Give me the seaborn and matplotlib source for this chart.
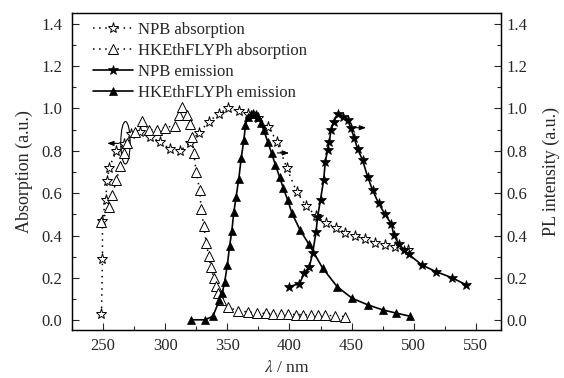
import matplotlib
matplotlib.use("Agg")
import matplotlib.pyplot as plt
import seaborn as sns
from matplotlib.patches import Ellipse
from matplotlib.ticker import MultipleLocator, FormatStrFormatter

# data
npb_abs_x = [248.7, 249.5, 249.5, 252, 253.5, 254.8, 260.7, 267, 272.8, 279.5, 288, 295.5,
             303.6, 311.6, 319.6, 327, 335, 343, 350.7, 359, 366.5, 375, 383, 390, 398,
             405.8, 413.4, 421.4, 429.4, 437.5, 445, 453, 461, 469, 477, 485, 495.8]
npb_abs_y = [0.03, 0.29, 0.47, 0.57, 0.66, 0.72, 0.80, 0.83, 0.88, 0.887, 0.866, 0.843,
             0.81, 0.80, 0.835, 0.885, 0.936, 0.976, 1.0, 0.99, 0.976, 0.955, 0.913, 0.843, 0.717,
             0.607, 0.54, 0.493, 0.458, 0.438, 0.414, 0.399, 0.383, 0.367, 0.356, 0.345, 0.333]

hk_abs_x = [248.7, 254.8, 257.5, 260.7, 264, 267, 269.6, 275.5, 281.6, 287, 293, 299.6,
            307.6, 311, 313.8, 317.8, 319.6, 321.8, 323, 325, 327.7, 329, 331, 333, 335,
            337, 339, 340.5, 342.4, 345, 350.4, 358.4, 366.5, 373.7, 381, 387, 393, 399,
            405, 411, 417, 423, 429, 437, 445]
hk_abs_y = [0.466, 0.534, 0.59, 0.662, 0.73, 0.788, 0.835, 0.89, 0.94, 0.90, 0.898, 0.91,
            0.918, 0.968, 1.005, 0.968, 0.926, 0.866, 0.788, 0.70, 0.615, 0.524, 0.446, 0.367, 0.305,
            0.25, 0.20, 0.163, 0.129, 0.097, 0.063, 0.046, 0.04, 0.035, 0.033, 0.032, 0.03, 0.03,
            0.028, 0.027, 0.026, 0.025, 0.024, 0.022, 0.018]

npb_em_x = [400, 408, 412, 416, 418.7, 421.4, 422.7, 425, 427.5, 428.9, 430.7, 432, 433.5,
            435.5, 438.8, 442.8, 446.8, 449.5, 452.2, 454.8, 458.8, 462.9, 466.9, 471.7,
            477, 482, 484, 488, 492, 496, 506.5, 518, 530.6, 542.3]
npb_em_y = [0.16, 0.173, 0.223, 0.254, 0.317, 0.419, 0.49, 0.57, 0.662, 0.749, 0.804, 0.843, 0.898,
            0.937, 0.976, 0.96, 0.945, 0.906, 0.859, 0.81, 0.757, 0.678, 0.615, 0.553,
            0.50, 0.455, 0.403, 0.36, 0.333, 0.312, 0.262, 0.23, 0.202, 0.168]

hk_em_x = [321, 332, 338.4, 343.7, 345.9, 347.8, 350, 351.8, 353.6, 355.2, 357.1, 359.2,
           361.2, 363.3, 364.6, 366.5, 369.2, 371, 373, 375, 377.2, 379.3, 382.5, 385.7,
           388.7, 392, 395.1, 398.6, 402, 408.5, 415.5, 426.7, 438.3, 450.3, 462.9, 475,
           485.7, 497]
hk_em_y = [0.003, 0.003, 0.02, 0.097, 0.13, 0.18, 0.26, 0.35, 0.42, 0.51, 0.584, 0.667,
           0.767, 0.85, 0.92, 0.96, 0.976, 0.98, 0.975, 0.96, 0.93, 0.898, 0.843, 0.788,
           0.733, 0.678, 0.623, 0.568, 0.506, 0.427, 0.361, 0.247, 0.16, 0.105, 0.074, 0.05,
           0.035, 0.02]

sns.set_style("ticks")
plt.rcParams["font.family"] = ["Liberation Serif", "DejaVu Serif"]
plt.rcParams["mathtext.fontset"] = "stix"
plt.rcParams["font.size"] = 11

fig = plt.figure(figsize=(5.64, 3.78), dpi=100)
ax = fig.add_axes([0.1277, 0.127, 0.760, 0.8386])

dotted = (0, (1, 3))
common = dict(ax=ax, color="k", sort=False, estimator=None, markeredgecolor="k")

sns.lineplot(x=npb_abs_x, y=npb_abs_y, marker="*", markersize=8, markerfacecolor="white",
             markeredgewidth=0.7, linestyle=dotted, linewidth=1.1,
             label="NPB absorption", **common)
sns.lineplot(x=hk_abs_x, y=hk_abs_y, marker="^", markersize=6.5, markerfacecolor="white",
             markeredgewidth=0.7, linestyle=dotted, linewidth=1.1,
             label="HKEthFLYPh absorption", **common)
sns.lineplot(x=npb_em_x, y=npb_em_y, marker="*", markersize=7.5, markerfacecolor="k",
             markeredgewidth=0.5, linewidth=1.2, label="NPB emission", **common)
sns.lineplot(x=hk_em_x, y=hk_em_y, marker="^", markersize=6, markerfacecolor="k",
             markeredgewidth=0.5, linewidth=1.2, label="HKEthFLYPh emission", **common)

# ellipse and arrows that tell which axis a curve belongs to
ax.add_patch(Ellipse((268, 0.838), 7.5, 0.2, fill=False, edgecolor="k", linewidth=0.8))
arrow = dict(arrowstyle="-|>,head_length=0.35,head_width=0.13", color="k", lw=0.8)
ax.annotate("", xy=(251, 0.835), xytext=(265, 0.835), arrowprops=arrow)
ax.annotate("", xy=(402, 0.79), xytext=(388, 0.79), arrowprops=arrow)
ax.annotate("", xy=(464, 0.909), xytext=(449, 0.909), arrowprops=arrow)

ax.set_xlim(225, 570)
ax.set_ylim(-0.045, 1.45)
ax.xaxis.set_major_locator(MultipleLocator(50))
ax.xaxis.set_minor_locator(MultipleLocator(25))
ax.yaxis.set_major_locator(MultipleLocator(0.2))
ax.yaxis.set_minor_locator(MultipleLocator(0.1))
ax.yaxis.set_major_formatter(FormatStrFormatter("%.1f"))
ax.tick_params(which="both", direction="in", top=False, right=False, labelsize=12)
ax.tick_params(which="major", length=5, width=0.8)
ax.tick_params(axis="y", which="major", pad=7)
ax.tick_params(axis="x", which="major", pad=6)
ax.tick_params(which="minor", length=3, width=0.8)
ax.set_xlabel(r"$\lambda$ / nm", fontsize=12.5, labelpad=4)
ax.set_ylabel("Absorption (a.u.)", fontsize=13, labelpad=6)

ax2 = ax.twinx()
ax2.set_ylim(ax.get_ylim())
ax2.yaxis.set_major_locator(MultipleLocator(0.2))
ax2.yaxis.set_minor_locator(MultipleLocator(0.1))
ax2.yaxis.set_major_formatter(FormatStrFormatter("%.1f"))
ax2.tick_params(which="both", direction="in", labelsize=12)
ax2.tick_params(which="major", length=5, width=0.8, pad=4)
ax2.tick_params(which="minor", length=3, width=0.8)
ax2.set_ylabel("PL intensity (a.u.)", fontsize=13, labelpad=11)

for a in (ax, ax2):
    for s in a.spines.values():
        s.set_color("k")
        s.set_linewidth(0.9)

ax.legend(loc="upper left", bbox_to_anchor=(0.05, 0.972), frameon=False, fontsize=12,
          handlelength=2.4, handletextpad=0.3, labelspacing=0.3, borderaxespad=0,
          borderpad=0)

fig.savefig("out.png", dpi=100)
